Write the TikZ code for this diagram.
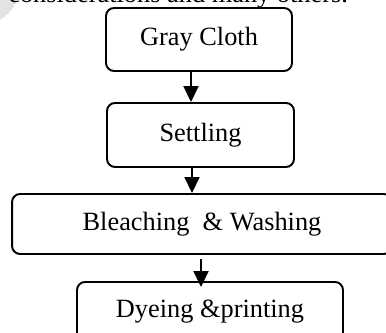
\documentclass[tikz,border=0pt]{standalone}
\usepackage{fontspec}
\setmainfont{Liberation Serif}
\usetikzlibrary{positioning}
\usetikzlibrary{arrows.meta}
\tikzset{>=latex}
\tikzstyle{stage} = [rectangle, draw=black, line width=1.1pt, rounded corners=0.16cm, align=center, font=\fontsize{15}{18}\selectfont]
\tikzstyle{flow} = [-{Triangle[width=0.3cm, length=0.32cm]}, line width=1.1pt, draw=black]

\begin{document}
\begin{tikzpicture}[x=0.02cm, y=-0.02cm]
\useasboundingbox (0, 0) rectangle (386, 333);
\clip (0, 0) rectangle (386, 333);
\fill [gray!22] (-20, -15) circle (40);
\node [anchor=base west, inner sep=0pt, font=\fontsize{15}{18}\selectfont] (prev) at (8, 2.5) {considerations and many others.};

\node [stage, minimum width=3.72cm, minimum height=1.26cm] (gray) at (199, 39.5) {Gray Cloth};
\node [stage, minimum width=3.74cm, minimum height=1.28cm] (settle) at (200.5, 135) {Settling};
\node [stage, minimum width=7.6cm, minimum height=1.2cm] (bleach) at (202, 224) {Bleaching \ \& Washing};
\node [stage, minimum width=5.32cm, minimum height=1.2cm] (dye) at (210, 312) {Dyeing \&printing};

\draw [flow] ([xshift=-0.16cm]gray.south) to ([xshift=-0.16cm]gray.south |- settle.north);
\draw [flow] ([xshift=-0.17cm]settle.south) to ([xshift=-0.17cm]settle.south |- bleach.north);
\draw [flow] ([xshift=-0.02cm, yshift=-0.08cm]bleach.south) to ([xshift=-0.02cm, yshift=-0.12cm]bleach.south |- dye.north);
\end{tikzpicture}
\end{document}
